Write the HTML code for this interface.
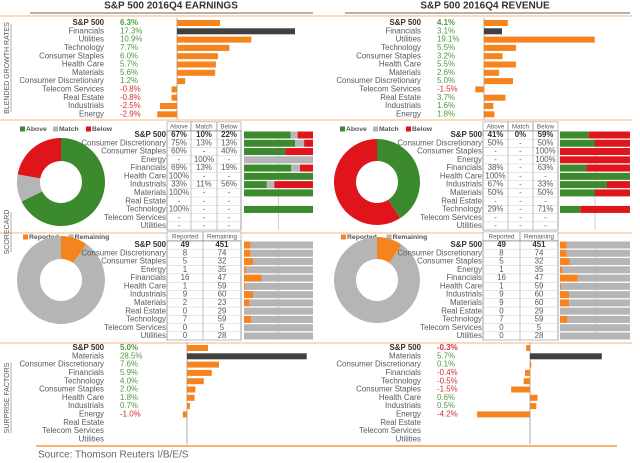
<!DOCTYPE html>
<html><head><meta charset="utf-8"><style>
html,body{margin:0;padding:0;background:#fff;}
svg{display:block;font-family:"Liberation Sans",Arial,sans-serif;}
</style></head><body>
<svg id="c" width="640" height="463" viewBox="0 0 640 463"></svg>
<script>
// ---- data ----
const growthSectorsE = ["S&P 500","Financials","Utilities","Technology","Consumer Staples","Health Care","Materials","Consumer Discretionary","Telecom Services","Real Estate","Industrials","Energy"];
const growthValuesE = [6.3,17.3,10.9,7.7,6.0,5.7,5.6,1.2,-0.8,-0.8,-2.5,-2.9];
const growthSectorsR = ["S&P 500","Financials","Utilities","Technology","Consumer Staples","Health Care","Materials","Consumer Discretionary","Telecom Services","Real Estate","Industrials","Energy"];
const growthValuesR = [4.1,3.1,19.1,5.5,3.2,5.5,2.6,5.0,-1.5,3.7,1.6,1.8];
const scoreSectors = ["S&P 500","Consumer Discretionary","Consumer Staples","Energy","Financials","Health Care","Industrials","Materials","Real Estate","Technology","Telecom Services","Utilities"];
const aboveE = [67,75,60,null,69,100,33,100,null,100,null,null];
const matchE = [10,13,null,100,13,null,11,null,null,null,null,null];
const belowE = [22,13,40,null,19,null,56,null,null,null,null,null];
const aboveR = [41,50,null,null,38,100,67,50,null,29,null,null];
const matchR = [0,null,null,null,null,null,null,null,null,null,null,null];
const belowR = [59,50,100,100,63,null,33,50,null,71,null,null];
const reportedE = [49,8,5,1,16,1,9,2,0,7,0,0];
const remainingE = [451,74,32,35,47,59,60,23,29,59,5,28];
const reportedR = [49,8,5,1,16,1,9,9,0,7,0,0];
const remainingR = [451,74,32,35,47,59,60,60,29,59,5,28];
const surpriseSectors = ["S&P 500","Materials","Consumer Discretionary","Financials","Technology","Consumer Staples","Health Care","Industrials","Energy","Real Estate","Telecom Services","Utilities"];
const surpriseE = [5.0,28.5,7.6,5.9,4.0,2.0,1.8,0.7,-1.0,null,null,null];
const surpriseR = [-0.3,5.7,0.1,-0.4,-0.5,-1.5,0.6,0.5,-4.2,null,null,null];

const ORANGE="#f5841f",DARK="#404040",GREEN="#3c8a2e",RED="#e0141b",GRAY="#b5b5b5",TXT="#5a5a5a";
const FS=7.9;
const svg=document.getElementById('c');
const NS="http://www.w3.org/2000/svg";
function el(tag,attrs,parent){const e=document.createElementNS(NS,tag);for(const k in attrs)e.setAttribute(k,attrs[k]);(parent||svg).appendChild(e);return e;}
function txt(x,y,s,attrs,parent){const t=el('text',Object.assign({x:x,y:y,'font-size':FS,fill:TXT,'dominant-baseline':'middle'},attrs||{}),parent);t.textContent=s;return t;}

[[0,16,632],[0,120,632],[0,233,632],[0,343,632]].forEach(a=>{
  const l=el('line',{x1:a[0],y1:a[1],x2:a[2],y2:a[1],stroke:"#f8b57c","stroke-width":1});
  
  
});
let ll=el('line',{x1:36,y1:446,x2:617,y2:446,stroke:ORANGE,"stroke-width":1.2});


el('line',{x1:30,y1:13,x2:313,y2:13,stroke:"#666","stroke-width":1});
el('line',{x1:345,y1:13,x2:630,y2:13,stroke:"#666","stroke-width":1});
let t1=txt(171,6,"S&P 500 2016Q4 EARNINGS",{'font-size':10,'font-weight':'bold',fill:'#333','text-anchor':'middle'});


let t2=txt(485,6,"S&P 500 2016Q4 REVENUE",{'font-size':10,'font-weight':'bold',fill:'#333','text-anchor':'middle'});


let src=txt(38,455,"Source: Thomson Reuters I/B/E/S",{'font-size':10,fill:'#666'});



function vlabel(cy,s,name){
  const t=txt(0,0,s,{'font-size':7,fill:'#555','text-anchor':'middle',transform:`translate(7,${cy}) rotate(-90)`});
  
  
  const w=s.length*4.4;
  el('line',{x1:11,y1:cy-w/2,x2:11,y2:cy+w/2,stroke:'#777','stroke-width':0.6});
}
vlabel(68,"BLENDED GROWTH RATES","growth-section-label");
vlabel(232,"SCORECARD","scorecard-section-label");
vlabel(398,"SURPRISE FACTORS","surprise-section-label");

function barList(o){
  const g=el('g',{});
  
  
  const yOf=i=>o.y0+i*o.step;
  const xOf=v=>o.axis+v*o.scale;
  el('line',{x1:o.axis,y1:yOf(0)-5,x2:o.axis,y2:yOf(o.cats.length-1)+5,stroke:'#999','stroke-width':0.8},g);
  o.cats.forEach((c,i)=>{
    const y=yOf(i);const bold=i===0;
    const lab=txt(o.labelX,y,c,{'text-anchor':'end','font-weight':bold?'bold':'normal',fill:bold?'#333':TXT},g);
    
    
    const v=o.vals[i];
    if(v===null||v===undefined)return;
    const vt=txt(o.valX,y,v.toFixed(1)+"%",{fill:v<0?'#d0303a':'#4e9a3e','font-weight':bold?'bold':'normal'},g);
    
    
    const x1=xOf(0),x2=xOf(v);
    const b=el('rect',{x:Math.min(x1,x2),y:y-3,width:Math.max(Math.abs(x2-x1),0.8),height:6,fill:i===o.dark?DARK:ORANGE},g);
    
    
  });
}
barList({name:'earnings-growth-chart',cats:growthSectorsE,vals:growthValuesE,y0:23,step:8.3,labelX:104,valX:120,axis:177,scale:6.82,dark:1});
barList({name:'revenue-growth-chart',cats:growthSectorsR,vals:growthValuesR,y0:23,step:8.3,labelX:421,valX:437,axis:484,scale:5.8,dark:1});
barList({name:'earnings-surprise-chart',cats:surpriseSectors,vals:surpriseE,y0:348,step:8.3,labelX:104,valX:120,axis:187,scale:4.2,dark:1});
barList({name:'revenue-surprise-chart',cats:surpriseSectors,vals:surpriseR,y0:348,step:8.3,labelX:421,valX:437,axis:530,scale:12.6,dark:1});

function donut(cx,cy,R,r,vals,cols,name){
  const g=el('g',{});
  
  
  const tot=vals.reduce((a,b)=>a+(b||0),0);let a0=-Math.PI/2;
  vals.forEach((v,i)=>{
    if(!v)return;const a1=a0+v/tot*2*Math.PI;const lg=(a1-a0)>Math.PI?1:0;
    const p=(a,rr)=>[cx+rr*Math.cos(a),cy+rr*Math.sin(a)];
    const [x0,y0]=p(a0,R),[x1,y1]=p(a1,R),[x2,y2]=p(a1,r),[x3,y3]=p(a0,r);
    const s=el('path',{d:`M${x0},${y0}A${R},${R} 0 ${lg} 1 ${x1},${y1}L${x2},${y2}A${r},${r} 0 ${lg} 0 ${x3},${y3}Z`,fill:cols[i]},g);
    
    
    a0=a1;
  });
}
function legend(x,y,items){
  let cx=x;
  items.forEach(it=>{
    el('rect',{x:cx,y:y-2.5,width:5,height:5,fill:it[1]});
    const t=txt(cx+6,y,it[0],{'font-size':6.8,'font-weight':'bold',fill:'#555'});
    
    
    cx+=6+it[0].length*4.2+6;
  });
}
legend(20,129,[["Above",GREEN],["Match",GRAY],["Below",RED]]);
legend(340,129,[["Above",GREEN],["Match",GRAY],["Below",RED]]);
legend(23,237,[["Reported",ORANGE],["Remaining",GRAY]]);
legend(341,237,[["Reported",ORANGE],["Remaining",GRAY]]);
donut(61,182,44,21,[aboveE[0],matchE[0],belowE[0]],[GREEN,GRAY,RED],'earnings-scorecard-donut');
donut(377,182,43,21,[aboveR[0],matchR[0],belowR[0]],[GREEN,GRAY,RED],'revenue-scorecard-donut');
donut(61,280,44,21,[reportedE[0],remainingE[0]],[ORANGE,GRAY],'earnings-reported-donut');
donut(377,280,43,21,[reportedR[0],remainingR[0]],[ORANGE,GRAY],'revenue-reported-donut');

function table(o){
  const g=el('g',{});
  
  
  const step=8.27,yOf=i=>o.y0+i*step;
  const top=yOf(0)-step/2-9,bot=yOf(o.cats.length-1)+step/2;
  const xs=o.colX;
  o.heads.forEach((h,j)=>{
    el('rect',{x:xs[j],y:top,width:xs[j+1]-xs[j],height:9,fill:'#fff',stroke:'#999','stroke-width':0.6},g);
    txt((xs[j]+xs[j+1])/2,top+4.8,h,{'font-size':6.3,'text-anchor':'middle'},g);
  });
  el('rect',{x:xs[0],y:top+9,width:xs[xs.length-1]-xs[0],height:bot-top-9,fill:'none',stroke:'#888','stroke-width':0.8},g);
  for(let j=1;j<xs.length-1;j++)el('line',{x1:xs[j],y1:top,x2:xs[j],y2:bot,stroke:'#999','stroke-width':0.6},g);
  el('line',{x1:o.barX+o.barW/2,y1:yOf(0)-4,x2:o.barX+o.barW/2,y2:bot,stroke:'#bbb','stroke-width':0.7},g);
  o.cats.forEach((c,i)=>{
    const y=yOf(i),bold=i===0;
    el('line',{x1:xs[0],y1:y+step/2,x2:xs[xs.length-1],y2:y+step/2,stroke:'#ccc','stroke-width':0.5},g);
    const lab=txt(xs[0]-1,y,c,{'text-anchor':'end','font-weight':bold?'bold':'normal',fill:bold?'#333':TXT},g);
    
    
    const vals=o.series.map(s=>s[i]);
    vals.forEach((v,j)=>{
      const s=(v===null)?'-':(o.pct?v+'%':String(v));
      txt((xs[j]+xs[j+1])/2,y,s,{'text-anchor':'middle','font-weight':bold?'bold':'normal',fill:bold?'#333':TXT},g);
    });
    const tot=vals.reduce((a,b)=>a+(b||0),0);
    if(!tot)return;
    let bx=o.barX;
    vals.forEach((v,j)=>{
      if(!v)return;const w=v/tot*o.barW;
      const r=el('rect',{x:bx,y:y-3.5,width:w,height:7,fill:o.colors[j]},g);
      
      
      bx+=w;
    });
  });
}
table({name:'earnings-scorecard-table',cats:scoreSectors,series:[aboveE,matchE,belowE],pct:true,heads:["Above","Match","Below"],colX:[167,191,217,241],y0:135,barX:244,barW:69,colors:[GREEN,GRAY,RED]});
table({name:'revenue-scorecard-table',cats:scoreSectors,series:[aboveR,matchR,belowR],pct:true,heads:["Above","Match","Below"],colX:[483,508,533,558],y0:135,barX:560,barW:70,colors:[GREEN,GRAY,RED]});
table({name:'earnings-reported-table',cats:scoreSectors,series:[reportedE,remainingE],pct:false,heads:["Reported","Remaining"],colX:[167,203,241],y0:245,barX:244,barW:69,colors:[ORANGE,GRAY]});
table({name:'revenue-reported-table',cats:scoreSectors,series:[reportedR,remainingR],pct:false,heads:["Reported","Remaining"],colX:[483,520,558],y0:245,barX:560,barW:70,colors:[ORANGE,GRAY]});
</script>
</body></html>
